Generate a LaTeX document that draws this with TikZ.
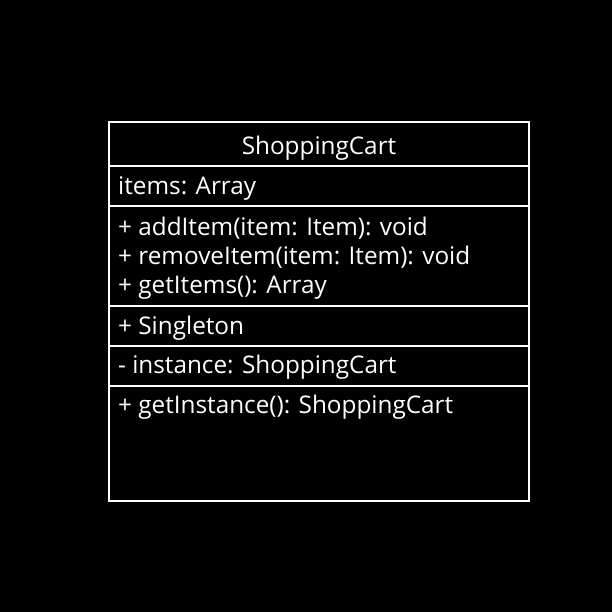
\documentclass[tikz,border=0pt]{standalone}
\usepackage{fontspec}
\setmainfont{Open Sans}
\usepackage{tikz}
\newcommand{\umlrow}[3]{%
  \node[row] (#2) at (118pt,-#1pt) {#3};%
}
\newcommand{\umlsep}[1]{%
  \draw[frame] (109pt,-#1pt) -- (529pt,-#1pt);%
}

\begin{document}
\begin{tikzpicture}[x=1pt,y=1pt,
  frame/.style={draw=white,line width=1.3pt},
  row/.style={anchor=west,inner sep=0pt,text=white,font=\fontsize{24.3}{28}\selectfont,
    text height=0.72em,text depth=0.24em}]
  \fill[black] (0,0) rectangle (612,-612);
  \useasboundingbox (0,0) rectangle (612,-612);
  \draw[frame] (109,-122) rectangle (529,-501);
  \foreach \y in {166,206,306,346,386}
    {\umlsep{\y}}
  \node[row,anchor=center] (title) at (319,-152) {ShoppingCart};
  \umlrow{192}{attr}{items: Array}
  \umlrow{233}{add}{+ addItem(item: Item): void}
  \umlrow{262}{remove}{+ removeItem(item: Item): void}
  \umlrow{291}{get}{+ getItems(): Array}
  \umlrow{332}{single}{+ Singleton}
  \umlrow{371}{inst}{- instance: ShoppingCart}
  \umlrow{411}{getinst}{+ getInstance(): ShoppingCart}
\end{tikzpicture}
\end{document}
